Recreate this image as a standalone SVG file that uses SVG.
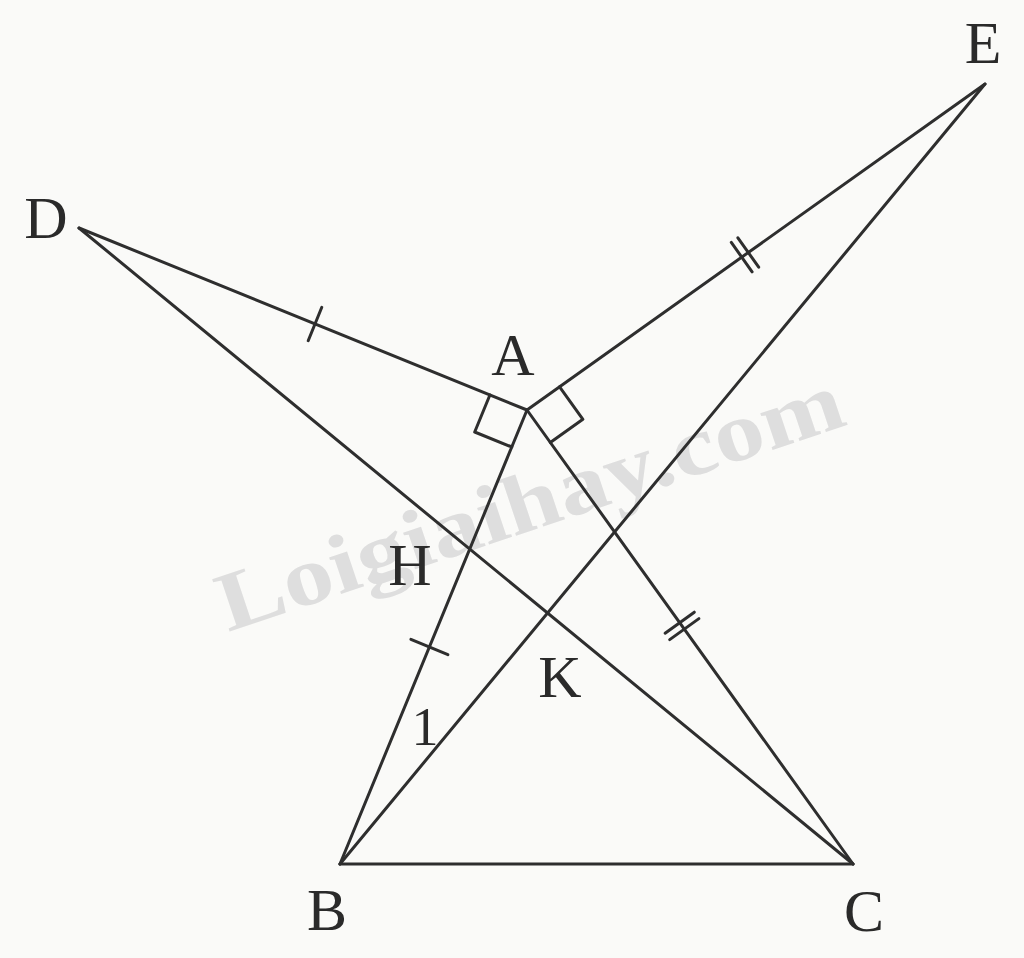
<svg xmlns="http://www.w3.org/2000/svg" width="1024" height="958" viewBox="0 0 1024 958">
<style>
.ln{stroke:#2e2e2e;stroke-width:3;fill:none;stroke-linecap:round;stroke-linejoin:round}
.tk{stroke:#2e2e2e;stroke-width:3;fill:none;stroke-linecap:round}
.lb{font-family:"Liberation Serif","Times New Roman",serif;font-size:60px;fill:#2a2a2a;text-anchor:middle}
.wm{font-family:"Liberation Serif","Times New Roman",serif;font-weight:bold;font-size:84px;fill:#dedede}
</style>
<rect width="1024" height="958" fill="#fafaf8"/>
<text class="wm" transform="translate(228,632) rotate(-18.5)" textLength="655" lengthAdjust="spacingAndGlyphs">Loigiaihay.com</text>
<g id="connectors">
<line class="ln" x1="79" y1="228" x2="527" y2="410"/>
<line class="ln" x1="527" y1="410" x2="985" y2="84"/>
<line class="ln" x1="79" y1="228" x2="853" y2="864"/>
<line class="ln" x1="985" y1="84" x2="340" y2="864"/>
<line class="ln" x1="527" y1="410" x2="340" y2="864"/>
<line class="ln" x1="527" y1="410" x2="853" y2="864"/>
<line class="ln" x1="340" y1="864" x2="853" y2="864"/>
</g>
<g id="marks">
<polyline class="ln" points="489.9,395 474.7,432 511.8,447"/>
<polyline class="ln" points="559.6,386.8 582.9,419.3 550.3,442.5"/>
<line class="tk" x1="321.8" y1="307.3" x2="308.2" y2="340.7"/>
<line class="tk" x1="410.9" y1="639.4" x2="447.9" y2="654.6"/>
<line class="tk" x1="731.3" y1="242.4" x2="752.1" y2="271.8"/>
<line class="tk" x1="737.9" y1="237.8" x2="758.7" y2="267.2"/>
<line class="tk" x1="665.1" y1="633.2" x2="694.3" y2="612.2"/>
<line class="tk" x1="669.7" y1="639.6" x2="698.9" y2="618.6"/>
</g>
<g id="node-D"><text class="lb" x="46" y="238">D</text></g>
<g id="node-E"><text class="lb" x="983" y="63">E</text></g>
<g id="node-A"><text class="lb" x="513" y="375">A</text></g>
<g id="node-H"><text class="lb" x="410" y="585">H</text></g>
<g id="node-K"><text class="lb" x="560" y="697">K</text></g>
<g id="node-1"><text class="lb" x="425" y="745" style="font-size:54px">1</text></g>
<g id="node-B"><text class="lb" x="327" y="930">B</text></g>
<g id="node-C"><text class="lb" x="864" y="931">C</text></g>
</svg>
